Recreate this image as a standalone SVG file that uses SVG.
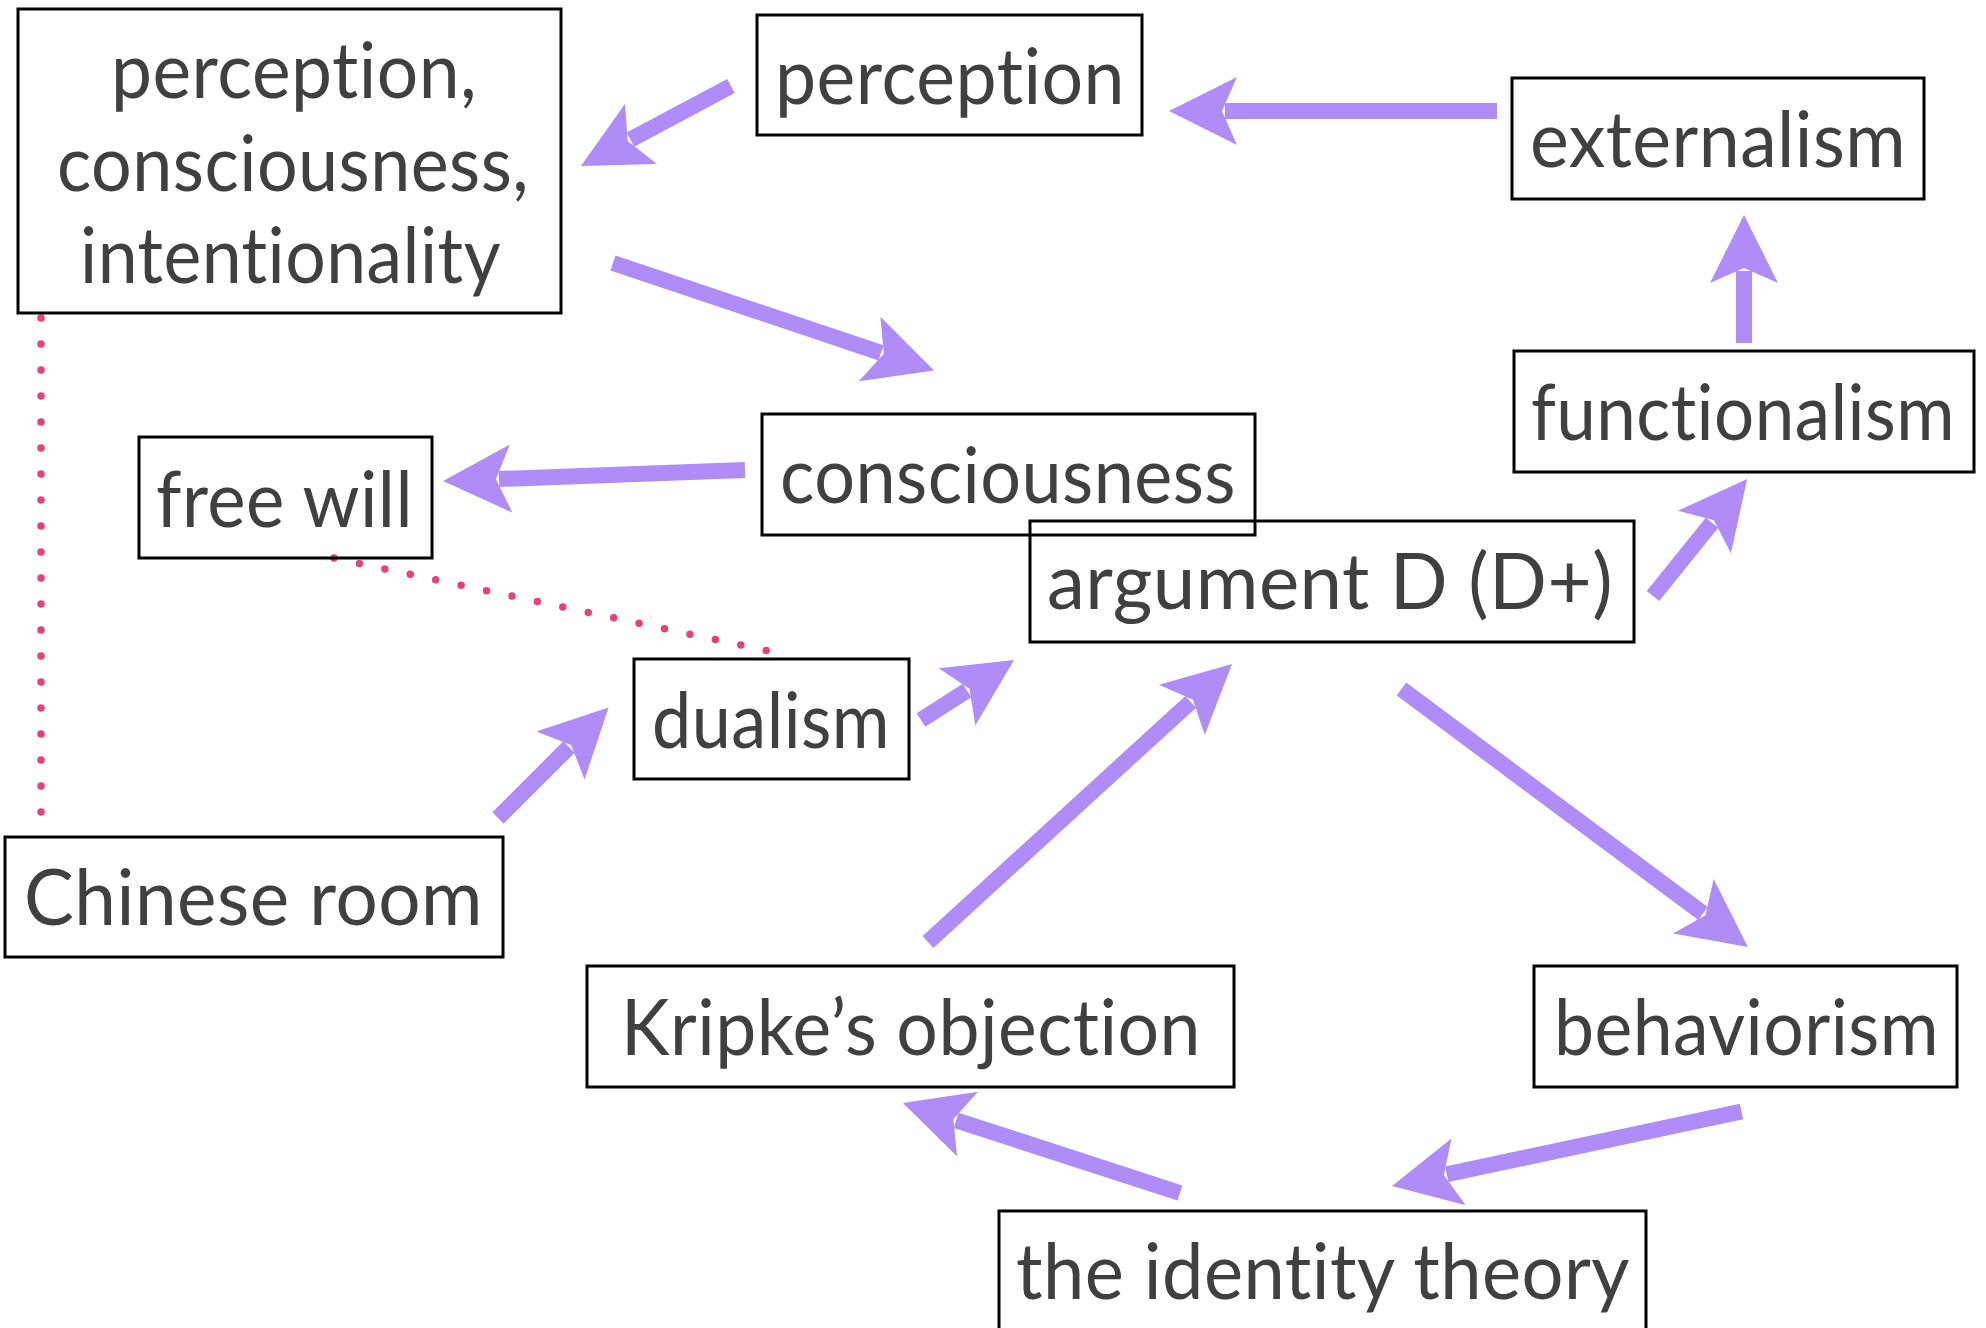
<svg xmlns="http://www.w3.org/2000/svg" width="1986" height="1328" viewBox="0 0 1986 1328">
<style>
.box{fill:none;stroke:#000;stroke-width:3}
.lbl{font-family:Lato,"Open Sans","Liberation Sans",sans-serif;font-size:77px;fill:#404040;font-variant-ligatures:none;font-feature-settings:"liga" 0,"clig" 0,"dlig" 0,"calt" 0;letter-spacing:0.5px}
.arr{stroke:#B08CF9;stroke-width:16;fill:none;marker-end:url(#head)}
.dot{stroke:#E8407A;stroke-width:7.5;stroke-linecap:round;stroke-dasharray:0 26;fill:none}
</style>
<defs>
<marker id="head" markerUnits="userSpaceOnUse" markerWidth="68" markerHeight="68" viewBox="0 0 68 68" refX="12" refY="34" orient="auto">
<path d="M68,34 L0,0 L15,34 L0,68 Z" fill="#B08CF9"/>
</marker>
</defs>
<rect width="1986" height="1328" fill="#fff"/>
<g id="connectors">
<line class="arr" x1="731" y1="86" x2="630.4" y2="139.6"/>
<line class="arr" x1="1497" y1="111" x2="1225" y2="111"/>
<line class="arr" x1="1744" y1="343" x2="1744" y2="271"/>
<line class="arr" x1="613" y1="263" x2="881" y2="352.8"/>
<line class="arr" x1="745" y1="470" x2="499" y2="479"/>
<line class="arr" x1="498" y1="818" x2="569" y2="747"/>
<line class="arr" x1="921" y1="720" x2="967" y2="690.4"/>
<line class="arr" x1="928" y1="942" x2="1190.7" y2="701.8"/>
<line class="arr" x1="1401.5" y1="689" x2="1703" y2="913.5"/>
<line class="arr" x1="1653" y1="596" x2="1712" y2="522.7"/>
<line class="arr" x1="1741.5" y1="1111.5" x2="1446.8" y2="1174.3"/>
<line class="arr" x1="1180" y1="1193" x2="956.2" y2="1120.3"/>
<path class="dot" d="M41,318 L41,812.5"/>
<path class="dot" d="M334,558 L766.5,650.5"/>
</g>
<g id="n-pci">
<rect class="box" x="18" y="9" width="543" height="304"/>
<text class="lbl" x="111" y="98" textLength="366" lengthAdjust="spacingAndGlyphs">perception,</text>
<text class="lbl" x="57" y="191" textLength="472" lengthAdjust="spacingAndGlyphs">consciousness,</text>
<text class="lbl" x="80" y="283" textLength="421" lengthAdjust="spacingAndGlyphs">intentionality</text>
</g>
<g id="n-perception">
<rect class="box" x="757" y="15" width="385" height="120"/>
<text class="lbl" x="775" y="104" textLength="350" lengthAdjust="spacingAndGlyphs">perception</text>
</g>
<g id="n-externalism">
<rect class="box" x="1512" y="78" width="412" height="121"/>
<text class="lbl" x="1530" y="167" textLength="376" lengthAdjust="spacingAndGlyphs">externalism</text>
</g>
<g id="n-functionalism">
<rect class="box" x="1514" y="351" width="460" height="121"/>
<text class="lbl" x="1531" y="440" textLength="424" lengthAdjust="spacingAndGlyphs">functionalism</text>
</g>
<g id="n-consciousness">
<rect class="box" x="762" y="414" width="493" height="121"/>
<text class="lbl" x="780" y="503" textLength="456" lengthAdjust="spacingAndGlyphs">consciousness</text>
</g>
<g id="n-argument">
<rect class="box" x="1030" y="521" width="604" height="121"/>
<text class="lbl" x="1047" y="609" textLength="566" lengthAdjust="spacingAndGlyphs">argument D (D+)</text>
</g>
<g id="n-freewill">
<rect class="box" x="139" y="437" width="293" height="121"/>
<text class="lbl" x="156" y="527" textLength="257" lengthAdjust="spacingAndGlyphs">free will</text>
</g>
<g id="n-dualism">
<rect class="box" x="634" y="659" width="275" height="120"/>
<text class="lbl" x="652" y="748" textLength="238" lengthAdjust="spacingAndGlyphs">dualism</text>
</g>
<g id="n-chinese">
<rect class="box" x="5" y="837" width="498" height="120"/>
<text class="lbl" x="24" y="925" textLength="459" lengthAdjust="spacingAndGlyphs">Chinese room</text>
</g>
<g id="n-kripke">
<rect class="box" x="587" y="966" width="647" height="121"/>
<text class="lbl" x="621" y="1055" textLength="580" lengthAdjust="spacingAndGlyphs">Kripke’s objection</text>
</g>
<g id="n-behaviorism">
<rect class="box" x="1534" y="966" width="423" height="121"/>
<text class="lbl" x="1554" y="1055" textLength="385" lengthAdjust="spacingAndGlyphs">behaviorism</text>
</g>
<g id="n-identity">
<rect class="box" x="999" y="1211" width="647" height="140"/>
<text class="lbl" x="1016" y="1299" textLength="614" lengthAdjust="spacingAndGlyphs">the identity theory</text>
</g>
</svg>
